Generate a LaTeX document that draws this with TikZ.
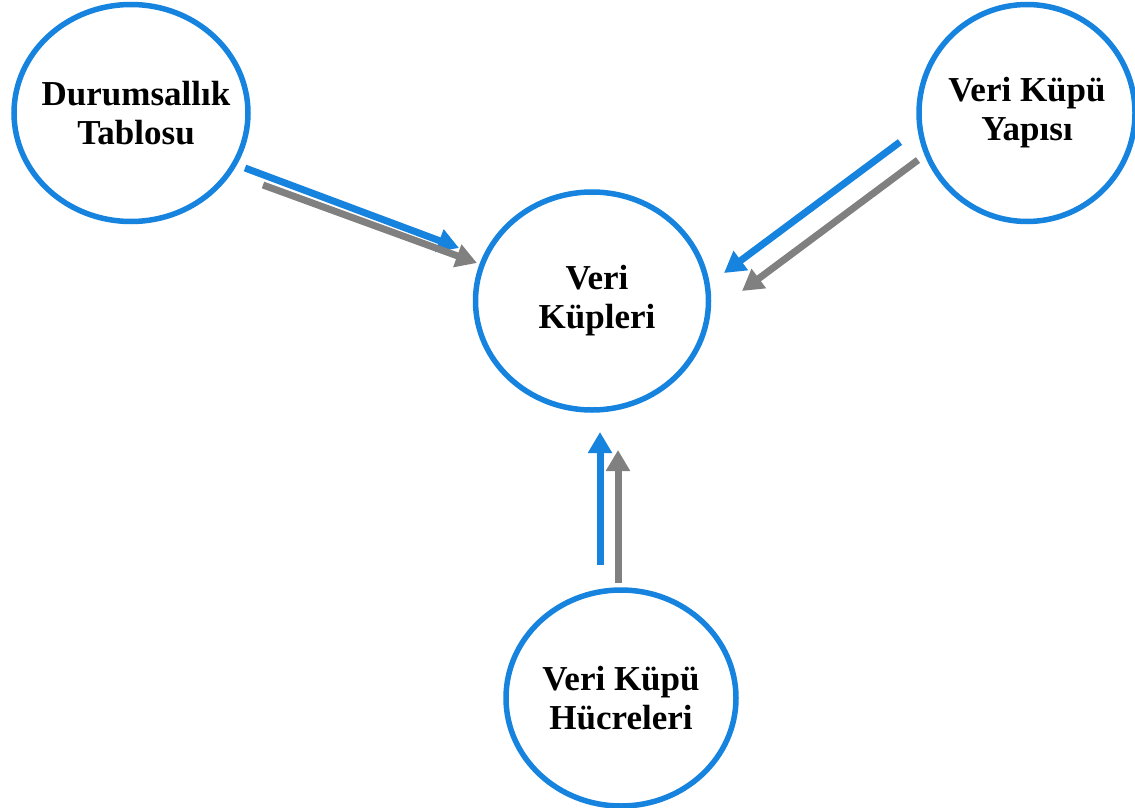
\documentclass[tikz,border=0pt]{standalone}
\usepackage{fontspec}
\setmainfont{Liberation Serif}[BoldFont={Liberation Serif Bold}]
\usetikzlibrary{shapes.geometric,arrows.meta}
\definecolor{cblue}{RGB}{22,131,222}
\definecolor{cgray}{RGB}{128,128,128}
\tikzset{
  bubble/.style={ellipse, draw=cblue, line width=5.5pt, fill=white,
    inner xsep=-60pt, inner ysep=-40pt,
    align=center, font=\bfseries\fontsize{35}{39}\selectfont},
  bluearrow/.style={draw=cblue, line width=7pt, -{Triangle[length=21pt,width=23pt]}},
  grayarrow/.style={draw=cgray, line width=7pt, -{Triangle[length=21pt,width=23pt]}}
}
\begin{document}
\begin{tikzpicture}[x=1pt,y=-1pt]
\useasboundingbox (0,0) rectangle (1135,808);
\node[bubble, minimum width=234pt, minimum height=217pt] (dt) at (131,113) {\hspace*{10pt}Durumsallık\\\hspace*{10pt}Tablosu};
\node[bubble, minimum width=216pt, minimum height=217pt] (vy) at (1027,113) {Veri Küpü\\Yapısı};
\node[bubble, minimum width=233pt, minimum height=218pt] (vk) at (592,301) {\hspace*{10pt}Veri\\\hspace*{10pt}Küpleri};
\node[bubble, minimum width=230pt, minimum height=216pt] (vh) at (621,698) {Veri Küpü\\Hücreleri};
% arrow end points
\coordinate (b1s) at (245,168); \coordinate (b1e) at (459,248);
\coordinate (g1s) at (263,185); \coordinate (g1e) at (477,263);
\coordinate (b2s) at (900,142); \coordinate (b2e) at (724,273);
\coordinate (g2s) at (918,160); \coordinate (g2e) at (742,291);
\coordinate (b3s) at (600,565); \coordinate (b3e) at (600,432);
\coordinate (g3s) at (618,583); \coordinate (g3e) at (618,450);
\draw[bluearrow] (b1s) -- (b1e);
\draw[grayarrow] (g1s) -- (g1e);
\draw[bluearrow] (b2s) -- (b2e);
\draw[grayarrow] (g2s) -- (g2e);
\draw[bluearrow] (b3s) -- (b3e);
\draw[grayarrow] (g3s) -- (g3e);
\end{tikzpicture}
\end{document}
